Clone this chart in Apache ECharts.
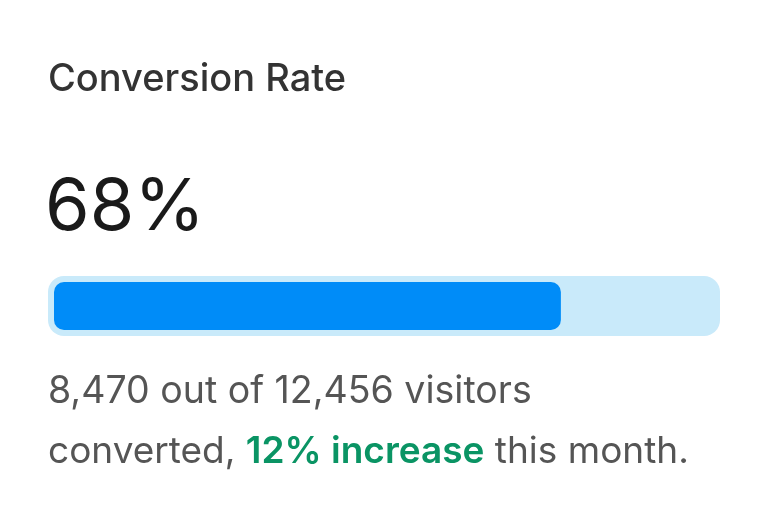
<!DOCTYPE html>
<html>
<head>
<meta charset="utf-8">
<title>Conversion Rate</title>
<script src="https://cdn.jsdelivr.net/npm/echarts@6/dist/echarts.min.js"></script>
<style>
  html, body { margin: 0; padding: 0; background: #fff; }
  #main { width: 768px; height: 528px; }
</style>
</head>
<body>
<div id="main"></div>
<script>
var categories = ['Conversion'];
var trackValues = [100];      // full track
var fillValues = [76.8];      // drawn length of the blue fill, % of inner track
var rateLabel = '68%';
var converted = '8,470';
var visitors = '12,456';
var increaseLabel = '12% increase';

var FONT = 'Inter, "Noto Sans", sans-serif';

var chart = echarts.init(document.getElementById('main'), null, { renderer: 'canvas' });

chart.setOption({
  animation: false,
  backgroundColor: '#ffffff',
  grid: [
    { left: 48, right: 48, top: 276, height: 60 },   // track
    { left: 54, width: 660, top: 282, height: 48 }   // fill
  ],
  xAxis: [
    { type: 'value', gridIndex: 0, min: 0, max: 100, show: false },
    { type: 'value', gridIndex: 1, min: 0, max: 100, show: false }
  ],
  yAxis: [
    { type: 'category', gridIndex: 0, data: categories, show: false },
    { type: 'category', gridIndex: 1, data: categories, show: false }
  ],
  series: [
    {
      type: 'bar', xAxisIndex: 0, yAxisIndex: 0, silent: true,
      barWidth: 60, data: trackValues,
      itemStyle: { color: '#c9eafa', borderRadius: 16 }
    },
    {
      type: 'bar', xAxisIndex: 1, yAxisIndex: 1, silent: true,
      barWidth: 48, data: fillValues,
      itemStyle: { color: '#008cf8', borderRadius: 10 }
    }
  ],
  graphic: [
    {
      type: 'text', left: 48, top: 61, silent: true,
      style: { text: 'Conversion Rate', fontFamily: FONT, fontSize: 38, fontWeight: 500, fill: '#333333' }
    },
    {
      type: 'text', left: 45, top: 172, silent: true,
      style: { text: rateLabel, fontFamily: FONT, fontSize: 72, fontWeight: 400, fill: '#1a1a1a' }
    },
    {
      type: 'text', left: 48, top: 373, silent: true,
      style: { text: converted + ' out of ' + visitors + ' visitors', fontFamily: FONT, fontSize: 37.5, fill: '#555555' }
    },
    {
      type: 'text', left: 48, top: 433, silent: true,
      style: {
        text: 'converted, {g|' + increaseLabel + '} this month.',
        fontFamily: FONT, fontSize: 37, fill: '#555555',
        rich: { g: { fontFamily: FONT, fontSize: 37, fontWeight: 600, fill: '#0a9464' } }
      }
    }
  ]
});
</script>
</body>
</html>
